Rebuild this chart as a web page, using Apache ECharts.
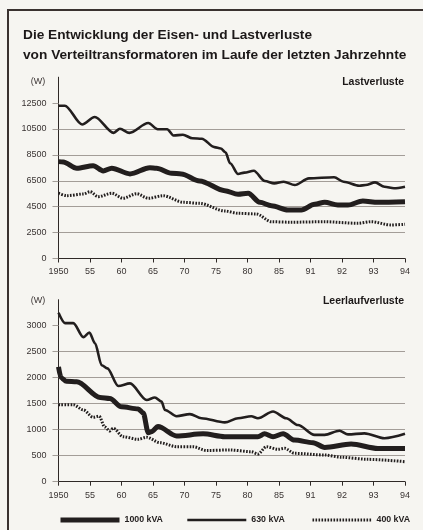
<!DOCTYPE html>
<html><head><meta charset="utf-8">
<script src="https://cdn.jsdelivr.net/npm/echarts@6/dist/echarts.min.js"></script>
<style>html,body{margin:0;padding:0;background:#f6f5f1}#c{width:423px;height:530px}</style>
</head><body><div id="c"></div>
<script>
const xLabels = ['1950','55','60','65','70','75','80','85','91','92','93','94'];
const lastTicks = [500,2500,4500,6500,8500,10500,12500];
const leerTicks = [0,500,1000,1500,2000,2500,3000];
const seriesNames = ['1000 kVA','630 kVA','400 kVA'];

// Lastverluste (W) — x in axis-label positions (0 = 1950 ... 11 = 94)
const last1000 = [[0,7980],[0.15,7950],[0.58,7470],[1.1,7670],[1.42,7260],[1.69,7470],[2.27,7030],[2.9,7510],[3.11,7470],[3.59,7080],[3.9,7030],[4.48,6490],[5.28,5740],[5.7,5460],[6.02,5540],[6.39,4840],[6.76,4580],[7.28,4250],[7.71,4250],[8.13,4690],[8.45,4840],[8.87,4630],[9.19,4630],[9.66,4940],[10.14,4840],[11,4890]];
const last630 = [[0,12300],[0.2,12300],[0.75,10850],[1.15,11430],[1.75,10200],[1.95,10520],[2.25,10200],[2.85,10960],[3.15,10480],[3.45,10480],[3.65,10000],[3.95,10060],[4.25,9780],[4.55,9750],[4.95,9100],[5.15,9000],[5.3,8700],[5.45,7850],[5.7,7020],[5.9,7130],[6.2,7280],[6.55,6480],[6.85,6300],[7.15,6430],[7.5,6170],[7.95,6690],[8.75,6770],[9.05,6430],[9.55,6120],[9.75,6170],[10.05,6380],[10.35,6040],[10.65,5920],[11,6040]];
const last400 = [[0,5540],[0.26,5350],[0.79,5480],[1.0,5660],[1.26,5270],[1.69,5540],[2.05,5150],[2.48,5500],[2.85,5150],[3.32,5350],[3.96,4840],[4.48,4760],[5.28,4170],[5.7,3990],[6.28,3940],[6.76,3340],[7.39,3300],[8.45,3340],[9.5,3220],[9.93,3340],[10.56,3090],[11,3140]];

// Leerlaufverluste (W)
const leer1000 = [[0,2210],[0.08,2000],[0.25,1930],[0.58,1920],[1.32,1620],[1.63,1600],[2.0,1440],[2.53,1400],[2.69,1320],[2.85,940],[2.95,960],[3.16,1060],[3.75,880],[4.59,920],[5.28,865],[6.33,865],[6.54,920],[6.81,865],[7.13,920],[7.49,800],[8.08,750],[8.45,660],[9.29,725],[10.14,640],[11,640]];
const leer630 = [[0,3250],[0.21,3050],[0.47,3050],[0.79,2780],[0.98,2870],[1.16,2660],[1.37,2240],[1.55,2180],[1.9,1840],[2.27,1890],[2.8,1570],[3.06,1620],[3.27,1540],[3.38,1380],[3.75,1260],[4.17,1300],[4.54,1220],[5.28,1140],[5.7,1220],[6.12,1260],[6.33,1220],[6.81,1350],[7.23,1220],[7.6,1090],[8.13,900],[8.45,900],[8.92,980],[9.19,910],[9.71,930],[10.35,835],[11,920]];
const leer400 = [[0,1480],[0.47,1480],[0.79,1380],[1.1,1240],[1.29,1260],[1.47,1050],[1.63,975],[1.74,1030],[2.05,865],[2.53,815],[2.8,855],[3.22,750],[3.75,673],[4.27,673],[4.7,600],[5.44,610],[6.12,577],[6.33,533],[6.6,673],[6.97,623],[7.18,642],[7.49,546],[8.45,513],[8.98,470],[9.82,430],[11,385]];

const FONT = '"Liberation Sans", Arial, sans-serif';
const INK = '#221e1e';
const AXIS = '#2f2927';
const GRID = '#a39d98';
const styles = {
  '1000 kVA': {width: 5, type: 'solid'},
  '630 kVA': {width: 2.6, type: 'solid'},
  '400 kVA': {width: 3, type: [1.6, 1.4]}
};

function xAxis(i){
  return {gridIndex:i, type:'value', min:0, max:11, interval:1,
    axisLine:{show:true, lineStyle:{color:AXIS, width:1}},
    axisTick:{show:true, length:4, lineStyle:{color:AXIS}},
    axisLabel:{formatter:v=>xLabels[Math.round(v)]||'', fontSize:9, color:'#3a3433', margin:9, fontFamily:FONT},
    splitLine:{show:false}};
}
function yAxis(i, min, max, interval, ticks, fmt){
  return {gridIndex:i, type:'value', min:min, max:max, interval:interval,
    axisLine:{show:true, lineStyle:{color:AXIS, width:1}},
    axisTick:{show:true, length:6, lineStyle:{color:GRID}, customValues:ticks},
    axisLabel:{customValues:ticks, formatter:fmt, fontSize:9, color:'#3a3433', margin:12, fontFamily:FONT},
    splitLine:{show:true, showMinLine:false, showMaxLine:false, lineStyle:{color:GRID, width:1}}};
}
function mk(name, data, gi){
  return {name:name, type:'line', xAxisIndex:gi, yAxisIndex:gi, data:data, symbol:'none', smooth:0.3, smoothMonotone:'x',
    lineStyle:{color:INK, width:styles[name].width, type:styles[name].type, cap:'butt'}, itemStyle:{color:INK}, silent:true};
}
function legend(name, left){
  return {data:[name], left:left, top:515.5, padding:0, itemWidth:59, itemHeight:10, selectedMode:false,
    itemStyle:{opacity:0},
    lineStyle:{width:styles[name].width, type:styles[name].type, color:INK, opacity:1},
    textStyle:{fontSize:8.8, fontWeight:'bold', color:INK, fontFamily:FONT}};
}

const chart = echarts.init(document.getElementById('c'), null, {renderer:'canvas'});
chart.setOption({
  backgroundColor:'#f6f5f1',
  animation:false,
  grid:[
    {left:58.5, right:18, top:77.2, bottom:271.5},
    {left:58.5, right:18, top:299.7, bottom:48.3}
  ],
  xAxis:[xAxis(0), xAxis(1)],
  yAxis:[
    yAxis(0, 500, 14500, 2000, lastTicks, v => v===500 ? '0' : (v>12500 ? '' : String(v))),
    yAxis(1, 0, 3500, 500, leerTicks, v => v>3000 ? '' : String(v))
  ],
  legend:[legend('1000 kVA',58), legend('630 kVA',186), legend('400 kVA',311)],
  series:[
    mk('1000 kVA', last1000, 0), mk('630 kVA', last630, 0), mk('400 kVA', last400, 0),
    mk('1000 kVA', leer1000, 1), mk('630 kVA', leer630, 1), mk('400 kVA', leer400, 1)
  ],
  graphic:[
    {type:'line', shape:{x1:8, y1:10, x2:423, y2:10}, style:{stroke:'#3a3230', lineWidth:2}, silent:true},
    {type:'line', shape:{x1:8, y1:9, x2:8, y2:530}, style:{stroke:'#3a3230', lineWidth:2}, silent:true},
    {type:'text', x:23, y:25, silent:true, style:{text:'Die Entwicklung der Eisen- und Lastverluste\nvon Verteiltransformatoren im Laufe der letzten Jahrzehnte', font:'bold 13.7px "Liberation Sans", Arial, sans-serif', lineHeight:20, fill:'#1c1818'}},
    {type:'text', x:404, y:82, silent:true, style:{text:'Lastverluste', font:'bold 10.5px "Liberation Sans", Arial, sans-serif', fill:'#1c1818', align:'right', verticalAlign:'middle'}},
    {type:'text', x:404, y:301, silent:true, style:{text:'Leerlaufverluste', font:'bold 10.5px "Liberation Sans", Arial, sans-serif', fill:'#1c1818', align:'right', verticalAlign:'middle'}},
    {type:'text', x:38, y:82, silent:true, style:{text:'(W)', font:'9px "Liberation Sans", Arial, sans-serif', fill:'#3a3433', align:'center', verticalAlign:'middle'}},
    {type:'text', x:38, y:301, silent:true, style:{text:'(W)', font:'9px "Liberation Sans", Arial, sans-serif', fill:'#3a3433', align:'center', verticalAlign:'middle'}}
  ]
});
</script></body></html>
